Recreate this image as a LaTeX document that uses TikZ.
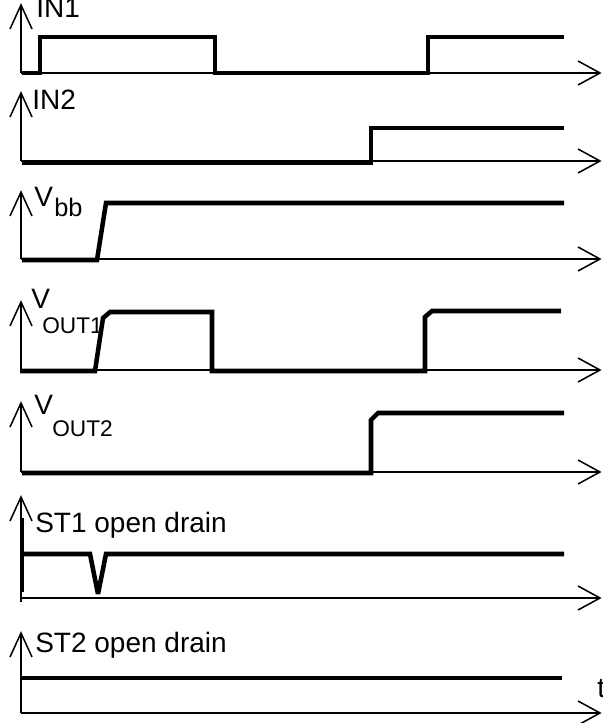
\documentclass[tikz,border=0pt]{standalone}
\usepackage{fontspec}
\setmainfont{Liberation Sans}
\begin{document}
\begin{tikzpicture}[x=0.75pt,y=-0.75pt,
  sig/.style={line width=3.4pt, line join=miter, miter limit=4},
  axisline/.style={line width=1.15pt},
  lbl/.style={inner sep=0pt, anchor=base west, font=\fontsize{21}{25}\selectfont},
  sublbl/.style={inner sep=0pt, anchor=base west, font=\fontsize{17}{20}\selectfont}]
\useasboundingbox (0,0) rectangle (602,723);
% axes
\foreach \t/\b in {5/73, 93/161, 192/259, 302/370, 403/472, 497/598, 633/713} {
  \draw[axisline] (21,\b) -- (21,\t);
  \draw[axisline] (10,\t+24) -- (21,\t) -- (32,\t+24);
  \draw[axisline] (21,\b) -- (600,\b);
  \draw[axisline] (578,\b-12) -- (600,\b) -- (578,\b+12);
}
\draw[axisline] (21,598) -- (21,602);
% signals
\draw[sig] (22,73) -- (40,73) -- (40,37) -- (215,37) -- (215,73) -- (428,73) -- (428,37) -- (564,37);
\draw[sig] (22,163) -- (371,163) -- (371,128) -- (564,128);
\draw[sig] (22,260) -- (97,260) -- (106,203) -- (564,203);
\draw[sig] (20,371) -- (95,371) -- (103,318) -- (110,312) -- (212,312) -- (212,371) -- (425,371) -- (425,317) -- (432,311) -- (561,311);
\draw[sig] (22,473) -- (371,473) -- (371,420) -- (378,413) -- (564,413);
\draw[sig] (22,518) -- (22,592);
\draw[sig] (22,554) -- (90,554) -- (98,594) -- (106,554) -- (564,554);
\draw[sig] (22,678) -- (562,678);
% labels
\node[lbl] (in1) at (36,18) {IN1};
\node[lbl] (in2) at (32,110) {IN2};
\node[lbl] (vbbV) at (34,207) {V};
\node[lbl, font=\fontsize{19}{22}\selectfont] (vbbS) at (54,217) {bb};
\node[lbl] (vo1V) at (31,308) {V};
\node[sublbl] (vo1S) at (42,333) {OUT1};
\node[lbl] (vo2V) at (34,414) {V};
\node[sublbl] (vo2S) at (52,436) {OUT2};
\node[lbl] (st1) at (35,532) {ST1 open drain};
\node[lbl] (st2) at (35,652) {ST2 open drain};
\node[lbl] (tt) at (597,697) {t};
\end{tikzpicture}
\end{document}
